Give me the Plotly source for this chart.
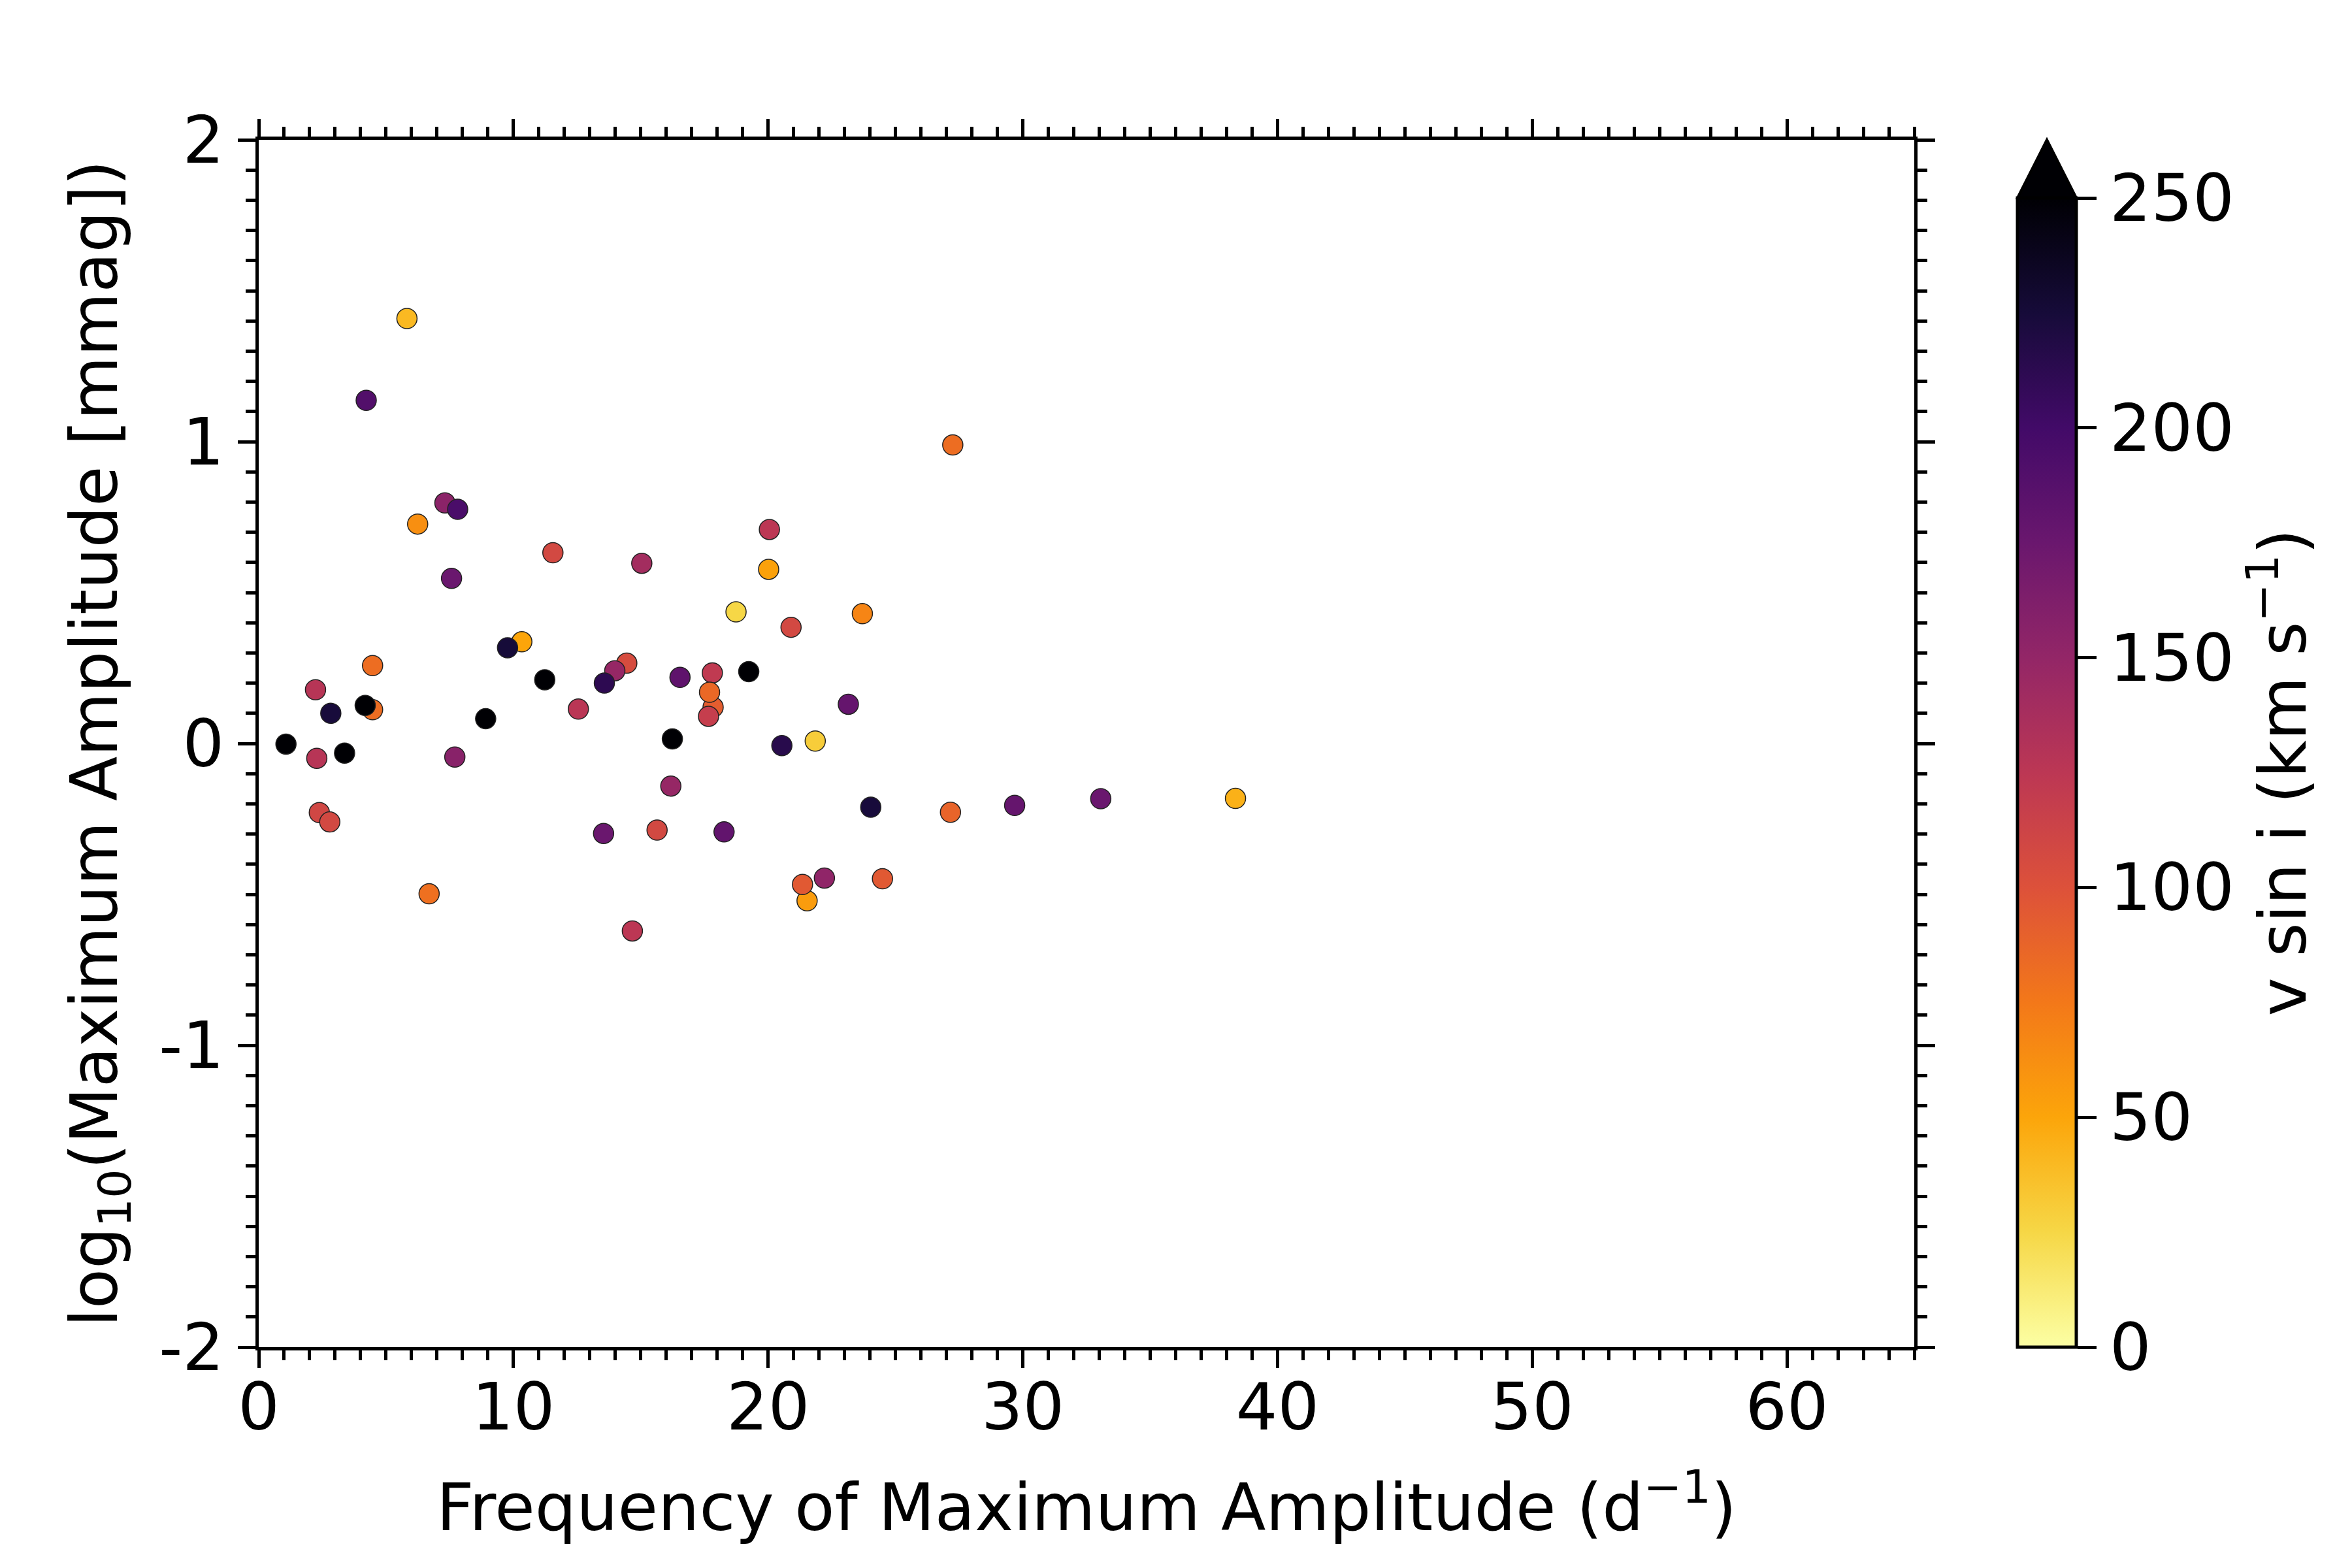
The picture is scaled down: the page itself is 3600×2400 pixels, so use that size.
import plotly.graph_objects as go

# ---- data ----
freq = [5.82, 4.22, 7.31, 7.81, 6.24, 11.55, 15.04, 20.05, 20.02, 7.57,
        18.74, 10.33, 9.77, 4.47, 2.23, 14.45, 13.98, 13.57, 11.23, 16.54,
        17.81, 17.84, 17.70, 17.66, 19.24, 12.55, 2.83, 4.47, 4.18, 8.91,
        1.07, 3.37, 2.28, 7.70, 16.24, 16.18, 2.38, 2.79, 13.54, 15.64,
        18.27, 6.69, 14.67, 20.90, 23.70, 23.15, 20.54, 21.85, 24.03, 27.16,
        29.68, 33.06, 38.35, 21.53, 22.21, 21.35, 24.49, 27.25]
log_amp = [1.408, 1.137, 0.797, 0.776, 0.727, 0.632, 0.597, 0.709, 0.577, 0.547,
           0.436, 0.337, 0.317, 0.258, 0.178, 0.266, 0.241, 0.200, 0.211, 0.219,
           0.234, 0.120, 0.170, 0.090, 0.238, 0.114, 0.100, 0.112, 0.126, 0.082,
           -0.002, -0.032, -0.049, -0.045, 0.015, -0.141, -0.229, -0.260, -0.298, -0.287,
           -0.293, -0.498, -0.621, 0.385, 0.430, 0.130, -0.007, 0.008, -0.211, -0.228,
           -0.205, -0.183, -0.182, -0.521, -0.446, -0.467, -0.448, 0.989]
vsini = [40, 190, 155, 195, 62, 108, 140, 125, 52, 175,
         25, 50, 225, 82, 128, 105, 148, 212, 255, 182,
         122, 92, 85, 118, 260, 126, 224, 82, 250, 255,
         260, 250, 128, 157, 255, 148, 110, 108, 175, 108,
         180, 80, 125, 108, 68, 178, 215, 30, 224, 88,
         178, 175, 44, 55, 152, 95, 95, 82]

x_ticks = [0, 10, 20, 30, 40, 50, 60]
y_ticks = [-2, -1, 0, 1, 2]
y_ticktext = ["-2", "-1", "0", "1", "2"]
cbar_ticks = [0, 50, 100, 150, 200, 250]

# matplotlib inferno, reversed (0 -> light yellow, 250 -> black)
inferno = ["#000004", "#160b39", "#420a68", "#6a176e", "#932667", "#bc3754",
           "#dd513a", "#f37819", "#fca50a", "#f6d746", "#fcffa4"]
inferno_r = inferno[::-1]
colorscale = [[i / (len(inferno_r) - 1), c] for i, c in enumerate(inferno_r)]

# ---- layout geometry ----
W, H = 3600, 2400
ml, mr, mt, mb = 388, 678, 206, 346
plot_w = W - ml - mr
plot_h = H - mt - mb
FONT = "DejaVu Sans"
FS = 100

cb_left_px = 3080
cb_thick = 90
cb_top_px = 295
cb_x = (cb_left_px - ml) / plot_w
cb_len = ((H - mb) - cb_top_px) / plot_h

fig = go.Figure()
fig.add_trace(go.Scatter(
    x=freq, y=log_amp, mode="markers",
    marker=dict(
        size=31, color=vsini, cmin=0, cmax=250, colorscale=colorscale,
        line=dict(color="#222222", width=1.5),
        colorbar=dict(
            x=cb_x, xanchor="left", y=0, yanchor="bottom",
            len=cb_len, lenmode="fraction",
            thickness=cb_thick, thicknessmode="pixels",
            xpad=0, ypad=0,
            outlinecolor="black", outlinewidth=5,
            tickvals=cbar_ticks, ticks="outside", ticklen=29, tickwidth=5,
            tickcolor="black",
            tickfont=dict(family=FONT, size=FS, color="black"),
            title=dict(text="v sin i (km s<sup>\u22121</sup>)", side="right",
                       font=dict(family=FONT, size=FS, color="black")),
        ),
    ),
    showlegend=False,
))

# extend-max triangle on top of colorbar
x0 = cb_x
x1 = cb_x + cb_thick / plot_w
ytop = cb_len
yapex = 1.0
fig.add_shape(type="path", xref="paper", yref="paper",
              path=f"M {x0} {ytop} L {(x0 + x1) / 2} {yapex} L {x1} {ytop} Z",
              fillcolor="#000004", line=dict(color="black", width=4))

axis_common = dict(
    showline=True, linecolor="black", linewidth=5, mirror="allticks",
    ticks="outside", ticklen=27, tickwidth=5, tickcolor="black",
    showgrid=False, zeroline=False,
    tickfont=dict(family=FONT, size=FS, color="black"),
)

fig.update_xaxes(
    range=[0, 65], tickvals=x_ticks,
    minor=dict(ticks="outside", ticklen=15, tickwidth=5, tickcolor="black", dtick=1, showgrid=False),
    title=dict(text="Frequency of Maximum Amplitude (d<sup>\u22121</sup>)",
               font=dict(family=FONT, size=FS, color="black"), standoff=62),
    ticklabelstandoff=-26,
    **axis_common,
)
fig.update_yaxes(
    range=[-2, 2], tickvals=y_ticks, ticktext=y_ticktext,
    minor=dict(ticks="outside", ticklen=15, tickwidth=5, tickcolor="black", dtick=0.1, showgrid=False),
    title=dict(text="log<sub>10</sub>(Maximum Amplitude [mmag])",
               font=dict(family=FONT, size=FS, color="black"), standoff=32),
    ticklabelstandoff=1,
    **axis_common,
)

fig.update_layout(
    width=W, height=H,
    margin=dict(l=ml, r=mr, t=mt, b=mb, autoexpand=False),
    plot_bgcolor="white", paper_bgcolor="white",
    font=dict(family=FONT, size=FS, color="black"),
)

fig.write_html("out.html")
